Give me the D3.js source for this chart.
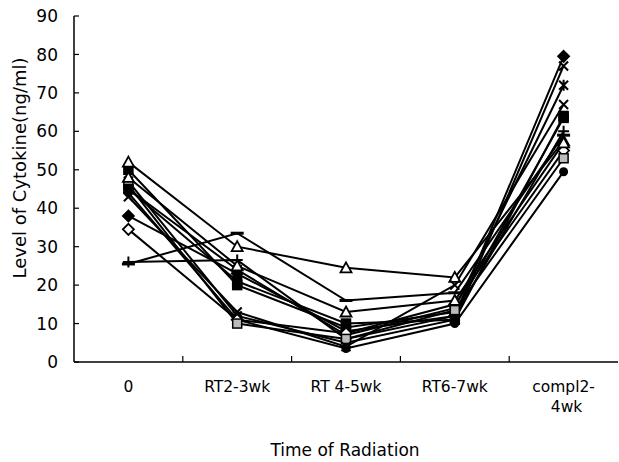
<!DOCTYPE html>
<html><head><meta charset="utf-8">
<script src="https://cdn.jsdelivr.net/npm/d3@7"></script>
<style>body{margin:0;background:#fff}svg{display:block}text{font-family:"DejaVu Sans",Arial,sans-serif;fill:#000}</style>
</head><body>
<script>
const categories = ["0", "RT2-3wk", "RT 4-5wk", "RT6-7wk", "compl2-\n4wk"];
const yTicks = [0, 10, 20, 30, 40, 50, 60, 70, 80, 90];
const sFilledDiamond = [38, 23, 8, 12, 79.5];
const sFilledSquare = [50, 20, 9, 13, 63.5];
const sTriangle = [52, 30, 24.5, 22, 57.5];
const sX1 = [47, 12, 5, 11, 77];
const sStar = [45, 24, 7, 14, 72];
const sCircle = [44, 11, 3.5, 10, 49.5];
const sPlus = [26, 26.5, 6, 12, 60];
const sDash = [25.5, 33.5, 16, 18, 59];
const sOpenDiamond = [34.5, 11, 7.5, 15, 55];
const sShadedSquare = [46, 10, 6, 13.5, 53];
const sX2 = [43, 13, 4, 20, 67];
const sTriangle2 = [48, 25, 13, 16, 57];
const sFilledSquare2 = [45, 21, 10, 11, 64];

const series = [
  {v: sFilledDiamond, m: "diamond"},
  {v: sFilledSquare, m: "square"},
  {v: sTriangle, m: "triangle"},
  {v: sX1, m: "x"},
  {v: sStar, m: "star"},
  {v: sCircle, m: "circle"},
  {v: sPlus, m: "plus"},
  {v: sDash, m: "dash"},
  {v: sOpenDiamond, m: "odiamond"},
  {v: sShadedSquare, m: "shaded"},
  {v: sX2, m: "x"},
  {v: sTriangle2, m: "triangle"},
  {v: sFilledSquare2, m: "square"}
];

const W = 619, H = 462;
const svg = d3.select("body").append("svg").attr("width", W).attr("height", H);
const x = d3.scaleBand().domain(categories).range([74, 618]).padding(0);
const y = d3.scaleLinear().domain([0, 90]).range([362, 16]);
const cx = c => x(c) + x.bandwidth() / 2;

// axes
const g = svg.append("g");
g.append("line").attr("x1", 74).attr("x2", 74).attr("y1", y(0)).attr("y2", y(90)).attr("stroke", "#000").attr("stroke-width", 1.5);
g.append("line").attr("x1", 74).attr("x2", 618).attr("y1", y(0)).attr("y2", y(0)).attr("stroke", "#000").attr("stroke-width", 1.5);
yTicks.forEach(t => {
  g.append("line").attr("x1", 74).attr("x2", 79).attr("y1", y(t)).attr("y2", y(t)).attr("stroke", "#000").attr("stroke-width", 1.2);
  g.append("text").attr("x", 58).attr("y", y(t)).attr("dy", "0.36em").attr("text-anchor", "end").attr("font-size", 17).text(t);
});
categories.slice(1).forEach(c => {
  g.append("line").attr("x1", x(c)).attr("x2", x(c)).attr("y1", y(0)).attr("y2", y(0) - 6).attr("stroke", "#000").attr("stroke-width", 1.2);
});
categories.forEach(c => {
  const lines = c.split("\n");
  lines.forEach((l, i) => {
    g.append("text").attr("x", cx(c) + (i ? 3 : 0)).attr("y", 386 + i * 20).attr("dy", "0.36em").attr("text-anchor", "middle").attr("font-size", 15.5).text(l);
  });
});
svg.append("text").attr("x", 345).attr("y", 450).attr("dy", "0.36em").attr("text-anchor", "middle").attr("font-size", 17).text("Time of Radiation");
svg.append("text").attr("transform", "translate(20,168) rotate(-90)").attr("dy", "0.36em").attr("text-anchor", "middle").attr("font-size", 18).text("Level of Cytokine(ng/ml)");

// lines
const line = d3.line().x((d, i) => cx(categories[i])).y(d => y(d));
series.forEach(s => {
  svg.append("path").attr("d", line(s.v)).attr("fill", "none").attr("stroke", "#000").attr("stroke-width", 2);
});

// markers
function marker(sel, m) {
  const s = 4.5;
  if (m === "diamond" || m === "odiamond") {
    sel.append("path").attr("d", `M0,${-s-1}L${s+1},0L0,${s+1}L${-s-1},0Z`).attr("fill", m === "diamond" ? "#000" : "#fff").attr("stroke", "#000").attr("stroke-width", 1.8);
  } else if (m === "square" || m === "shaded") {
    sel.append("rect").attr("x", -s).attr("y", -s).attr("width", 2*s).attr("height", 2*s).attr("fill", m === "square" ? "#000" : "#bbb").attr("stroke", "#000").attr("stroke-width", 1.5);
  } else if (m === "triangle") {
    sel.append("path").attr("d", `M0,${-s-1}L${s+1},${s}L${-s-1},${s}Z`).attr("fill", "#fff").attr("stroke", "#000").attr("stroke-width", 1.8);
  } else if (m === "x") {
    sel.append("path").attr("d", `M${-s},${-s}L${s},${s}M${s},${-s}L${-s},${s}`).attr("stroke", "#000").attr("stroke-width", 2);
  } else if (m === "star") {
    sel.append("path").attr("d", `M${-s},${-s}L${s},${s}M${s},${-s}L${-s},${s}M0,${-s-1}L0,${s+1}`).attr("stroke", "#000").attr("stroke-width", 2);
  } else if (m === "circle") {
    sel.append("circle").attr("r", s).attr("fill", "#000");
  } else if (m === "plus") {
    sel.append("path").attr("d", `M${-s-1},0L${s+1},0M0,${-s-1}L0,${s+1}`).attr("stroke", "#000").attr("stroke-width", 2);
  } else if (m === "dash") {
    sel.append("path").attr("d", `M${-s-2},0L${s+2},0`).attr("stroke", "#000").attr("stroke-width", 3);
  }
}
series.forEach(s => {
  s.v.forEach((v, i) => {
    const mg = svg.append("g").attr("transform", `translate(${cx(categories[i])},${y(v)})`);
    marker(mg, s.m);
  });
});
</script>
</body></html>
